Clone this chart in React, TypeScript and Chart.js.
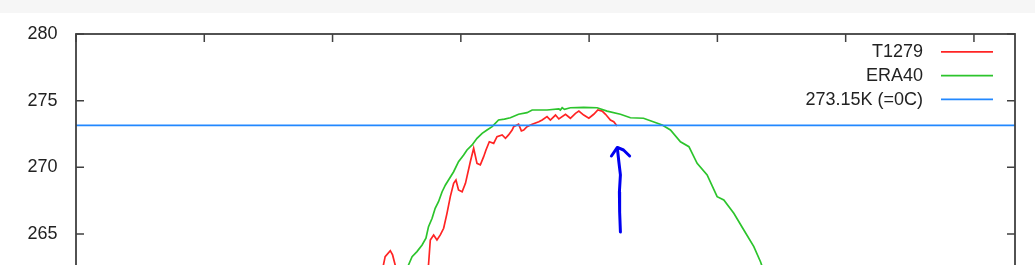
import React, { useEffect, useRef } from "react";
import { Chart, registerables } from "chart.js";

Chart.register(...registerables);

// ---- data (x = day of year, y = temperature in K) ----
const xTickStep = 50;
const yTickStep = 5;
const xRange = [0, 366];
const yRange = [260, 280];

const seriesLabels = ["T1279", "ERA40", "273.15K (=0C)"];
const seriesColors = ["#ff2424", "#2cc42c", "#2288ff"];

const redDays = [100, 117.5, 120.5, 122.5, 123.4, 124.4, 128.3, 134.2, 137.4, 138.1, 139.4, 140.7, 142.0, 143.3, 144.6, 145.9, 147.2, 148.1, 149.1, 150.5, 151.8, 153.7, 155.0, 156.3, 157.6, 158.9, 159.8, 161.1, 162.8, 164.1, 166.1, 167.4, 168.6, 170.0, 170.6, 172.5, 173.6, 174.5, 175.8, 177.8, 180.4, 181.7, 183.6, 184.9, 186.9, 188.2, 190.8, 192.7, 194.7, 196.0, 197.9, 199.9, 201.8, 203.4, 205.1, 206.4, 208.3, 209.6, 210.9];
const redTemps = [255, 260.5, 263.3, 263.75, 263.43, 262.68, 261.2, 261.9, 262.68, 264.55, 264.93, 264.55, 264.93, 265.43, 266.55, 267.8, 268.8, 269.05, 268.3, 268.17, 268.8, 270.42, 271.43, 270.3, 270.18, 270.8, 271.3, 271.92, 271.8, 272.3, 272.43, 272.18, 272.43, 272.8, 273.05, 273.23, 272.73, 272.8, 273.05, 273.23, 273.42, 273.55, 273.8, 273.55, 273.92, 273.63, 273.98, 273.68, 274.05, 274.22, 273.92, 273.68, 273.98, 274.3, 274.22, 273.98, 273.55, 273.42, 273.1];

const greenDays = [110, 126.4, 129.6, 131.0, 132.9, 134.9, 136.4, 137.4, 138.8, 140.0, 141.3, 142.7, 144.0, 145.2, 147.2, 149.1, 151.1, 152.4, 154.4, 156.3, 158.3, 160.2, 162.2, 164.7, 167.0, 169.3, 172.5, 175.8, 177.8, 183.6, 188.2, 188.8, 189.5, 190.4, 192.7, 197.9, 203.1, 207.0, 212.2, 216.1, 221.2, 228.5, 231.7, 235.6, 238.9, 242.1, 246.0, 249.9, 252.5, 256.4, 260.3, 264.2, 266.8, 270.7, 280];
const greenTemps = [255, 260.8, 262.68, 263.3, 263.68, 264.18, 264.68, 265.55, 266.18, 266.93, 267.42, 268.17, 268.68, 269.05, 269.67, 270.42, 270.93, 271.3, 271.68, 272.18, 272.55, 272.8, 273.05, 273.55, 273.62, 273.72, 273.98, 274.1, 274.3, 274.3, 274.38, 274.3, 274.47, 274.35, 274.47, 274.5, 274.47, 274.22, 273.98, 273.72, 273.68, 273.18, 272.8, 271.92, 271.55, 270.3, 269.43, 267.8, 267.55, 266.55, 265.3, 264.05, 262.92, 260.8, 256];

const freezeDays = [0, 366];
const freezeTemps = [273.15, 273.15];

// hand-drawn annotation arrow
const arrowHeadDays = [208.7, 211.0, 213.4, 215.8];
const arrowHeadTemps = [270.85, 271.49, 271.3, 270.85];
const arrowShaftDays = [211.0, 211.6, 212.2, 211.8, 211.9, 212.2];
const arrowShaftTemps = [271.45, 270.4, 269.43, 268.15, 266.65, 265.15];
const arrowColor = "#0000f0";

const zip = (xs: number[], ys: number[]) => xs.map((x, i) => ({ x, y: ys[i] }));

const FONT_FAMILY = "'Liberation Sans', Arial, sans-serif";
const FONT_SIZE = 18;
const TEXT_COLOR = "#222222";
const FRAME_COLOR = "#404040";

const framePlugin = {
  id: "frameTicks",
  afterDatasetsDraw(chart: any) {
    const { ctx, chartArea } = chart;
    const { left, right, top, bottom } = chartArea;
    ctx.save();
    ctx.strokeStyle = FRAME_COLOR;
    ctx.lineWidth = 1.8;
    ctx.strokeRect(left, top, right - left, bottom - top);
    ctx.lineWidth = 1.5;
    const tl = 8;
    ctx.beginPath();
    chart.scales.y.ticks.forEach((t: any) => {
      const py = chart.scales.y.getPixelForValue(t.value);
      ctx.moveTo(left, py);
      ctx.lineTo(left + tl, py);
      ctx.moveTo(right - tl, py);
      ctx.lineTo(right, py);
    });
    chart.scales.x.ticks.forEach((t: any) => {
      const px = chart.scales.x.getPixelForValue(t.value);
      ctx.moveTo(px, top);
      ctx.lineTo(px, top + tl);
      ctx.moveTo(px, bottom);
      ctx.lineTo(px, bottom - tl);
    });
    ctx.stroke();
    ctx.restore();
  },
  afterDraw(chart: any) {
    const { ctx, chartArea } = chart;
    ctx.save();
    ctx.font = `${FONT_SIZE}px ${FONT_FAMILY}`;
    ctx.textAlign = "right";
    ctx.textBaseline = "middle";
    const textRight = chartArea.right - 92;
    const lineStart = chartArea.right - 74;
    const lineEnd = chartArea.right - 22;
    seriesLabels.forEach((label, i) => {
      const y = chartArea.top + 17.8 + i * 23.8;
      ctx.fillStyle = TEXT_COLOR;
      ctx.fillText(label, textRight, y + 0.5);
      ctx.strokeStyle = seriesColors[i];
      ctx.lineWidth = 1.8;
      ctx.beginPath();
      ctx.moveTo(lineStart, y);
      ctx.lineTo(lineEnd, y);
      ctx.stroke();
    });
    ctx.restore();
  },
};

export default function App() {
  const ref = useRef<HTMLCanvasElement | null>(null);

  useEffect(() => {
    if (!ref.current) return;
    const font = { family: FONT_FAMILY, size: FONT_SIZE };
    const chart = new Chart(ref.current, {
      type: "line",
      data: {
        datasets: [
          { label: seriesLabels[0], data: zip(redDays, redTemps), borderColor: seriesColors[0], borderWidth: 1.7, order: 4 },
          { label: seriesLabels[1], data: zip(greenDays, greenTemps), borderColor: seriesColors[1], borderWidth: 1.7, order: 3 },
          { label: seriesLabels[2], data: zip(freezeDays, freezeTemps), borderColor: seriesColors[2], borderWidth: 1.7, order: 2 },
          { label: "arrow head", data: zip(arrowHeadDays, arrowHeadTemps), borderColor: arrowColor, borderWidth: 3, borderCapStyle: "round", borderJoinStyle: "round", order: 1 },
          { label: "arrow shaft", data: zip(arrowShaftDays, arrowShaftTemps), borderColor: arrowColor, borderWidth: 3, borderCapStyle: "round", borderJoinStyle: "round", order: 1 },
        ] as any,
      },
      options: {
        animation: false,
        responsive: false,
        maintainAspectRatio: false,
        layout: { padding: { top: 34, right: 20, left: 0, bottom: 0 } },
        elements: { point: { radius: 0 }, line: { tension: 0, fill: false } },
        plugins: { legend: { display: false }, tooltip: { enabled: false } },
        scales: {
          x: {
            type: "linear",
            min: xRange[0],
            max: xRange[1],
            grid: { display: false, drawTicks: false },
            border: { display: false },
            ticks: { stepSize: xTickStep, includeBounds: false, font, color: TEXT_COLOR, padding: 10 },
            afterFit: (s: any) => { s.height = 32.33; },
          },
          y: {
            type: "linear",
            min: yRange[0],
            max: yRange[1],
            grid: { display: false, drawTicks: false },
            border: { display: false },
            ticks: { stepSize: yTickStep, font, color: TEXT_COLOR, padding: 18.5 },
            afterFit: (s: any) => { s.width = 76; },
          },
        },
      } as any,
      plugins: [framePlugin],
    });
    return () => chart.destroy();
  }, []);

  return (
    <div style={{ position: "fixed", left: 0, top: 0, width: 1035, height: 265, overflow: "hidden", background: "#ffffff" }}>
      <canvas ref={ref} width={1035} height={333} style={{ display: "block", width: 1035, height: 333 }} />
      <div style={{ position: "absolute", left: 0, top: 0, width: 1035, height: 13, background: "#f6f6f6" }} />
    </div>
  );
}
